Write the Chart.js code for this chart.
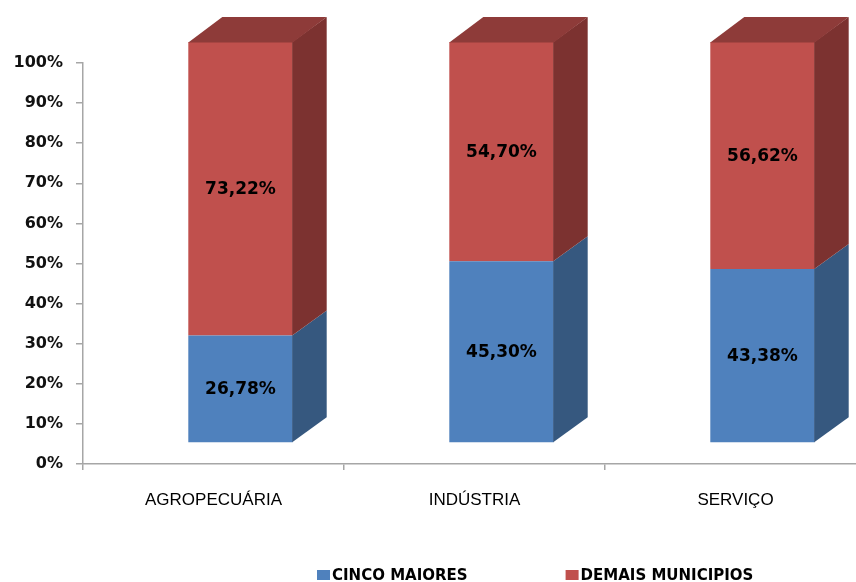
<!DOCTYPE html>
<html lang="pt-BR">
<head>
<meta charset="utf-8">
<title>Participação por setor</title>
<script src="https://cdn.jsdelivr.net/npm/chart.js@4.4.0/dist/chart.umd.min.js"></script>
<style>
  html, body { margin: 0; padding: 0; background: #fff; overflow: hidden; }
  /* o eixo X continua um pouco além da borda da janela */
  #wrap { width: 866px; height: 582px; position: relative; }
</style>
</head>
<body>
<div id="wrap"><canvas id="setoresChart"></canvas></div>
<script>
// Setores econômicos e participação (%) de cada grupo de municípios
const setores = ['AGROPECUÁRIA', 'INDÚSTRIA', 'SERVIÇO'];
const cincoMaiores = [26.78, 45.30, 43.38];
const demaisMunicipios = [73.22, 54.70, 56.62];
const escalaY = { min: 0, max: 100, passo: 10 };

// Cores das faces (frontal, lateral e topo)
const AZUL = '#4f81bd', AZUL_LADO = '#36587f';
const VERMELHO = '#c0504d', VERMELHO_LADO = '#7c3230', VERMELHO_TOPO = '#8e3b39';
const CINZA = '#a6a6a6';

// Projeção do bloco 3D
const DESLOC_X = 27, DESLOC_Y = -21;   // face frontal deslocada sobre o piso
const PROF_X = 34, PROF_Y = -25;       // profundidade do bloco

const fmt = v => v.toFixed(2).replace('.', ',') + '%';

/**
 * Desenha as barras como blocos 3D: desloca a face frontal
 * e acrescenta a lateral e o topo de cada segmento
 */
const barras3d = {
    id: 'barras3d',
    beforeDatasetsDraw(chart) {
        chart.ctx.save();
        chart.ctx.translate(DESLOC_X, DESLOC_Y);
    },
    afterDatasetsDraw(chart) {
        const ctx = chart.ctx;
        const ultimo = chart.data.datasets.length - 1;

        chart.data.datasets.forEach((ds, i) => {
            const meta = chart.getDatasetMeta(i);
            meta.data.forEach(bar => {
                const { x, y, base, width } = bar.getProps(['x', 'y', 'base', 'width'], true);
                const esq = x - width / 2, dir = x + width / 2;

                // lateral
                ctx.fillStyle = ds.corLateral;
                ctx.beginPath();
                ctx.moveTo(dir - 0.5, y);
                ctx.lineTo(dir + PROF_X, y + PROF_Y);
                ctx.lineTo(dir + PROF_X, base + PROF_Y);
                ctx.lineTo(dir - 0.5, base);
                ctx.closePath();
                ctx.fill();

                // topo só no último segmento da pilha
                if (i === ultimo) {
                    ctx.fillStyle = ds.corTopo;
                    ctx.beginPath();
                    ctx.moveTo(esq, y + 0.5);
                    ctx.lineTo(esq + PROF_X, y + PROF_Y);
                    ctx.lineTo(dir + PROF_X, y + PROF_Y);
                    ctx.lineTo(dir, y + 0.5);
                    ctx.closePath();
                    ctx.fill();
                }
            });
        });

        // rótulos de valor no centro da face frontal
        ctx.font = 'bold 17px "DejaVu Sans"';
        ctx.fillStyle = '#000';
        ctx.textAlign = 'center';
        ctx.textBaseline = 'middle';
        chart.data.datasets.forEach((ds, i) => {
            chart.getDatasetMeta(i).data.forEach((bar, j) => {
                const { x, y, base } = bar.getProps(['x', 'y', 'base'], true);
                ctx.fillText(fmt(ds.data[j]), x, (y + base) / 2 + 1);
            });
        });

        ctx.restore();
    }
};

/**
 * Legenda desenhada à mão abaixo do eixo
 */
const legenda = {
    id: 'legenda',
    afterDraw(chart) {
        const ctx = chart.ctx;
        ctx.save();
        ctx.font = 'bold 15px "DejaVu Sans"';
        ctx.textBaseline = 'middle';
        ctx.textAlign = 'left';
        let px = 317;
        const py = 575;
        chart.data.datasets.forEach(ds => {
            ctx.fillStyle = ds.backgroundColor;
            ctx.fillRect(px, py - 5, 13, 10);
            ctx.fillStyle = '#000';
            ctx.fillText(ds.label, px + 15, py + 1);
            px += 15 + ctx.measureText(ds.label).width + 98;
        });
        ctx.restore();
    }
};

new Chart(document.getElementById('setoresChart'), {
    type: 'bar',
    data: {
        labels: setores,
        datasets: [{
            label: 'CINCO MAIORES',
            data: cincoMaiores,
            backgroundColor: AZUL,
            corLateral: AZUL_LADO,
            corTopo: AZUL_LADO
        }, {
            label: 'DEMAIS MUNICIPIOS',
            data: demaisMunicipios,
            backgroundColor: VERMELHO,
            corLateral: VERMELHO_LADO,
            corTopo: VERMELHO_TOPO
        }]
    },
    options: {
        responsive: true,
        maintainAspectRatio: false,
        animation: false,
        events: [],
        layout: { padding: { left: 0, top: 63, right: 0, bottom: 0 } },
        datasets: {
            bar: {
                clip: false,
                borderWidth: 0,
                categoryPercentage: 1,
                barPercentage: 0.4
            }
        },
        plugins: {
            legend: { display: false },
            tooltip: { enabled: false }
        },
        scales: {
            x: {
                stacked: true,
                afterFit(scale) { scale.height = 118; },
                border: { color: CINZA, width: 1.5 },
                grid: {
                    drawOnChartArea: false,
                    color: CINZA,
                    lineWidth: 1.5,
                    tickLength: 6
                },
                ticks: {
                    color: '#000',
                    padding: 20,
                    font: { family: '"Liberation Sans"', size: 17 }
                }
            },
            y: {
                stacked: true,
                min: escalaY.min,
                max: escalaY.max,
                afterFit(scale) { scale.width = 83; },
                border: { color: CINZA, width: 1.5 },
                grid: {
                    drawOnChartArea: false,
                    color: CINZA,
                    lineWidth: 1.5,
                    tickLength: 7
                },
                ticks: {
                    stepSize: escalaY.passo,
                    color: '#111',
                    padding: 13,
                    font: { family: '"DejaVu Sans"', size: 16, weight: 'bold' },
                    callback: v => v + '%'
                }
            }
        }
    },
    plugins: [barras3d, legenda]
});
</script>
</body>
</html>
